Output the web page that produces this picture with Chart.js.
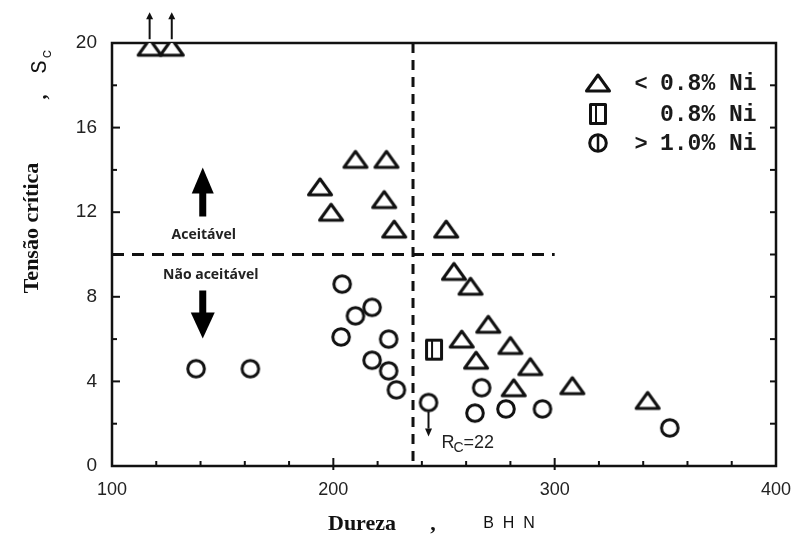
<!DOCTYPE html>
<html>
<head>
<meta charset="utf-8">
<script src="https://cdn.jsdelivr.net/npm/chart.js@4/dist/chart.umd.min.js"></script>
<style>
  html, body { margin: 0; padding: 0; background: #fff; }
  #c { display: block; }
</style>
</head>
<body>
<canvas id="c" width="792" height="537"></canvas>
<script>
// Hardness (BHN) and critical stress (Sc) per nickel content group
const lowNiHardness  = [117, 127, 194, 210, 224, 199, 223, 227.5, 251, 254.5, 262, 270, 258, 264.5, 280, 289, 281.5, 308, 342];
const lowNiStress    = [19.8, 19.8, 13.2, 14.5, 14.5, 12.0, 12.6, 11.2, 11.2, 9.2, 8.5, 6.7, 6.0, 5.0, 5.7, 4.7, 3.7, 3.8, 3.1];
const midNiHardness  = [245.5];
const midNiStress    = [5.5];
const highNiHardness = [138, 162.5, 204, 210, 217.5, 203.5, 217.5, 225, 225, 228.5, 243, 267, 264, 278, 294.5, 352];
const highNiStress   = [4.6, 4.6, 8.6, 7.1, 7.5, 6.1, 5.0, 6.0, 4.5, 3.6, 3.0, 3.7, 2.5, 2.7, 2.7, 1.8];

const seriesNames    = ['< 0.8% Ni', '0.8% Ni', '> 1.0% Ni'];
const legendPrefix   = ['<', '', '>'];
const legendText     = ['0.8% Ni', '0.8% Ni', '1.0% Ni'];

const xTickValues    = [100, 200, 300, 400];
const yTickValues    = [0, 4, 8, 12, 16, 20];

// acceptance limits
const LIMIT_STRESS   = 10;
const LIMIT_HARDNESS = 236;
const LIMIT_LINE_END = 300;

const INK = '#111';

function makeMarker(w, h, draw) {
  const c = document.createElement('canvas');
  c.width = w; c.height = h;
  const g = c.getContext('2d');
  g.lineWidth = 3; g.strokeStyle = INK; g.fillStyle = '#fff'; g.lineJoin = 'round';
  draw(g, w, h);
  return c;
}
const triMarker = makeMarker(28, 22, (g) => {
  g.beginPath(); g.moveTo(14, 3); g.lineTo(25.5, 19); g.lineTo(2.5, 19); g.closePath();
  g.fill(); g.stroke();
});
const circMarker = makeMarker(22, 22, (g) => {
  g.beginPath(); g.arc(11, 11, 8.3, 0, Math.PI * 2); g.fill(); g.stroke();
});
const sqMarker = makeMarker(20, 24, (g) => {
  g.fillRect(2.5, 2.5, 15, 19); g.strokeRect(2.5, 2.5, 15, 19);
  g.lineWidth = 2; g.beginPath(); g.moveTo(8, 4); g.lineTo(8, 20); g.stroke();
});

function toPoints(xs, ys) { return xs.map((v, i) => ({ x: v, y: ys[i] })); }

// filled arrow head with its tip at (x, y); dir = -1 points up, +1 points down
function arrowHead(ctx, x, y, dir, half, len) {
  ctx.beginPath();
  ctx.moveTo(x, y);
  ctx.lineTo(x - half, y - dir * len);
  ctx.lineTo(x + half, y - dir * len);
  ctx.closePath();
  ctx.fill();
}

const decorations = {
  id: 'decorations',
  beforeDatasetsDraw(chart) {
    const { ctx, chartArea: a, scales: { x, y } } = chart;
    ctx.save();
    ctx.strokeStyle = INK;
    ctx.fillStyle = INK;

    // dashed limit lines
    ctx.lineWidth = 3;
    ctx.setLineDash([12, 8]);
    const yl = y.getPixelForValue(LIMIT_STRESS);
    ctx.beginPath(); ctx.moveTo(a.left, yl); ctx.lineTo(x.getPixelForValue(LIMIT_LINE_END), yl); ctx.stroke();
    ctx.setLineDash([10, 7]);
    const xl = x.getPixelForValue(LIMIT_HARDNESS);
    ctx.beginPath(); ctx.moveTo(xl, a.top); ctx.lineTo(xl, a.bottom); ctx.stroke();
    ctx.setLineDash([]);

    // frame
    ctx.lineWidth = 2.5;
    ctx.strokeRect(a.left, a.top, a.right - a.left, a.bottom - a.top);

    // x ticks
    ctx.lineWidth = 2;
    for (let v = 120; v < 400; v += 20) {
      const px = x.getPixelForValue(v);
      const major = v % 100 === 0;
      ctx.beginPath();
      ctx.moveTo(px, a.bottom + (major ? 4 : 0));
      ctx.lineTo(px, a.bottom - (major ? 8 : 5));
      ctx.stroke();
    }
    // y ticks, both sides
    for (let v = 2; v < 20; v += 2) {
      const py = y.getPixelForValue(v);
      const major = v % 4 === 0;
      ctx.beginPath(); ctx.moveTo(a.left, py); ctx.lineTo(a.left + (major ? 8 : 5), py); ctx.stroke();
      ctx.beginPath(); ctx.moveTo(a.right, py); ctx.lineTo(a.right - 6, py); ctx.stroke();
    }
    ctx.restore();
  },
  afterDatasetsDraw(chart) {
    const { ctx, scales: { x, y } } = chart;
    ctx.save();
    ctx.strokeStyle = INK;
    ctx.fillStyle = INK;

    // off-scale arrows on the two top points
    ctx.lineWidth = 2;
    for (let i = 0; i < 2; i++) {
      const px = x.getPixelForValue(lowNiHardness[i]);
      const py = y.getPixelForValue(lowNiStress[i]);
      ctx.beginPath(); ctx.moveTo(px, py - 8); ctx.lineTo(px, py - 30); ctx.stroke();
      arrowHead(ctx, px, py - 35, -1, 3.5, 7);
    }

    // down arrow from the Rc=22 point
    {
      const px = x.getPixelForValue(highNiHardness[10]);
      const py = y.getPixelForValue(highNiStress[10]);
      ctx.beginPath(); ctx.moveTo(px, py + 9); ctx.lineTo(px, py + 26); ctx.stroke();
      arrowHead(ctx, px, py + 34, 1, 3.5, 8);
      ctx.textBaseline = 'alphabetic';
      ctx.textAlign = 'left';
      ctx.fillStyle = '#222';
      ctx.font = '18px "Liberation Sans", Arial, sans-serif';
      ctx.fillText('R', px + 13, py + 45);
      ctx.font = '14px "Liberation Sans", Arial, sans-serif';
      ctx.fillText('C', px + 25, py + 49);
      ctx.font = '18px "Liberation Sans", Arial, sans-serif';
      ctx.fillText('=22', px + 35, py + 45);
      ctx.fillStyle = INK;
    }

    // acceptable / not acceptable arrows and labels
    const ax = x.getPixelForValue(141);
    const yl = y.getPixelForValue(LIMIT_STRESS);
    ctx.fillStyle = '#000';
    ctx.fillRect(ax - 3.5, yl - 63, 7, 25);
    arrowHead(ctx, ax, yl - 87, -1, 11, 26);
    ctx.fillRect(ax - 3.5, yl + 36, 7, 26);
    arrowHead(ctx, ax, yl + 84, 1, 12, 26);

    ctx.fillStyle = '#222';
    ctx.font = 'bold 14px "Open Sans", "Liberation Sans", sans-serif';
    ctx.textAlign = 'center';
    ctx.textBaseline = 'middle';
    ctx.fillText('Aceitável', ax + 1, yl - 19);
    ctx.fillText('Não aceitável', ax + 8, yl + 21);

    // legend
    const lx = 598, ly = [83, 114, 143];
    ctx.drawImage(triMarker, lx - 14, ly[0] - 11);
    ctx.drawImage(sqMarker, lx - 10, ly[1] - 12);
    ctx.drawImage(circMarker, lx - 11, ly[2] - 11);
    ctx.lineWidth = 2.5;
    ctx.strokeStyle = INK;
    ctx.beginPath(); ctx.moveTo(lx, ly[2] - 9); ctx.lineTo(lx, ly[2] + 9); ctx.stroke();
    ctx.fillStyle = '#1a1a1a';
    ctx.textBaseline = 'middle';
    for (let i = 0; i < 3; i++) {
      if (legendPrefix[i]) {
        ctx.font = 'bold 22px "Liberation Mono", monospace';
        ctx.textAlign = 'center';
        ctx.fillText(legendPrefix[i], 641, ly[i] + 1);
      }
      ctx.font = 'bold 23px "Liberation Mono", "Courier New", monospace';
      ctx.textAlign = 'left';
      ctx.fillText(legendText[i], 660, ly[i] + 1);
    }

    // y axis title
    ctx.fillStyle = '#111';
    ctx.save();
    ctx.translate(32, 228);
    ctx.rotate(-Math.PI / 2);
    ctx.font = 'bold 22px "Liberation Serif", "Times New Roman", serif';
    ctx.textAlign = 'center';
    ctx.textBaseline = 'middle';
    ctx.fillText('Tensão crítica', 0, 0);
    ctx.restore();
    ctx.save();
    ctx.translate(46, 97);
    ctx.rotate(-Math.PI / 2);
    ctx.font = 'bold 20px "Liberation Serif", serif';
    ctx.textAlign = 'center';
    ctx.textBaseline = 'alphabetic';
    ctx.fillText(',', 0, 0);
    ctx.font = '22px "Liberation Mono", monospace';
    ctx.fillText('S', 30, 0);
    ctx.font = '15px "Liberation Mono", monospace';
    ctx.fillText('c', 43, 5);
    ctx.restore();

    // x axis title
    ctx.font = 'bold 22px "Liberation Serif", "Times New Roman", serif';
    ctx.textAlign = 'center';
    ctx.textBaseline = 'alphabetic';
    ctx.fillText('Dureza', 362, 530);
    ctx.fillText(',', 433, 530);
    ctx.font = '16px "Liberation Sans", Arial, sans-serif';
    ctx.fillText('B  H  N', 509, 528);

    ctx.restore();
  }
};

new Chart(document.getElementById('c'), {
  type: 'scatter',
  data: {
    datasets: [
      { label: seriesNames[0], data: toPoints(lowNiHardness, lowNiStress),
        pointStyle: triMarker, pointRadius: 11, pointHoverRadius: 11 },
      { label: seriesNames[1], data: toPoints(midNiHardness, midNiStress),
        pointStyle: sqMarker, pointRadius: 10, pointHoverRadius: 10 },
      { label: seriesNames[2], data: toPoints(highNiHardness, highNiStress),
        pointStyle: circMarker, pointRadius: 10, pointHoverRadius: 10 }
    ]
  },
  options: {
    responsive: false,
    animation: false,
    devicePixelRatio: 1,
    layout: { padding: { left: 0, top: 43, right: 16, bottom: 0 } },
    plugins: { legend: { display: false }, tooltip: { enabled: false } },
    scales: {
      x: {
        type: 'linear', min: 100, max: 400,
        grid: { display: false, drawTicks: false, tickLength: 0 },
        border: { display: false },
        afterBuildTicks: (s) => { s.ticks = xTickValues.map(v => ({ value: v })); },
        ticks: { color: '#222', padding: 13, font: { family: '"Liberation Sans", Arial, sans-serif', size: 18 } },
        afterFit: (s) => { s.height = 71; s.paddingLeft = 0; s.paddingRight = 0; }
      },
      y: {
        type: 'linear', min: 0, max: 20,
        grid: { display: false, drawTicks: false, tickLength: 0 },
        border: { display: false },
        afterBuildTicks: (s) => { s.ticks = yTickValues.map(v => ({ value: v })); },
        ticks: { color: '#222', padding: 15, font: { family: '"Liberation Sans", Arial, sans-serif', size: 19 } },
        afterFit: (s) => { s.width = 112; s.paddingTop = 0; s.paddingBottom = 0; }
      }
    }
  },
  plugins: [decorations]
});
</script>
</body>
</html>
